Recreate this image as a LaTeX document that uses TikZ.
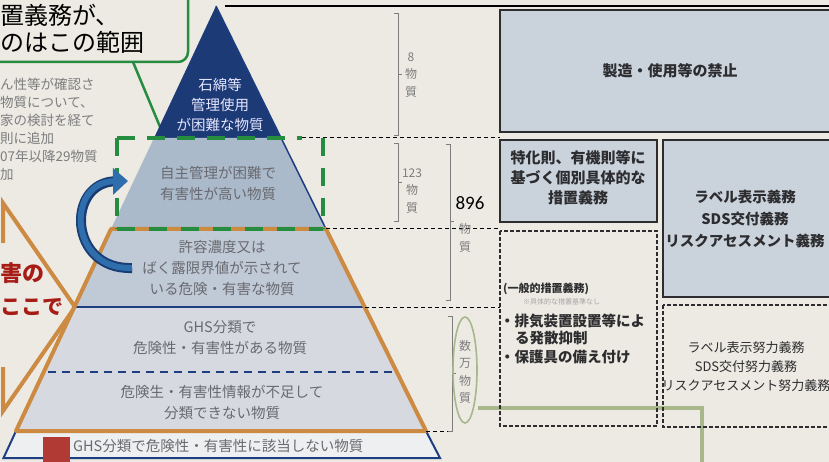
\documentclass[tikz,border=0pt]{standalone}
\usepackage{fontspec}
\setmainfont{Noto Sans CJK JP}
\newfontfamily\carl{Carlito}
\usetikzlibrary{arrows.meta}
\definecolor{paper}{RGB}{236,234,226}
\definecolor{navy}{RGB}{28,58,118}
\definecolor{bandb}{RGB}{170,186,202}
\definecolor{bandc}{RGB}{192,202,214}
\definecolor{bandd}{RGB}{214,218,224}
\definecolor{bandf}{RGB}{238,239,240}
\definecolor{edgeblue}{RGB}{30,62,130}
\definecolor{ptxt}{RGB}{105,105,112}
\definecolor{ltxt}{RGB}{125,125,128}
\definecolor{orng}{RGB}{204,138,66}
\definecolor{grn}{RGB}{38,140,64}
\definecolor{sage}{RGB}{168,184,140}
\definecolor{boxfill}{RGB}{202,210,220}
\definecolor{dred}{RGB}{168,28,22}
\definecolor{sqred}{RGB}{178,58,52}
\definecolor{arrowblue}{RGB}{46,110,172}
\definecolor{arrowedge}{RGB}{25,60,115}
\definecolor{brk}{RGB}{125,125,125}
\definecolor{boxtxt}{RGB}{45,45,48}
\begin{document}
\begin{tikzpicture}[x=1pt,y=-1pt,
  ptext/.style={text=ptxt,font=\fontsize{14.5}{21}\selectfont,align=center,inner sep=0pt},
  wtext/.style={text=white!90!blue,font=\fontsize{14.5}{20}\selectfont,align=center,inner sep=0pt},
  ltext/.style={text=ltxt,font=\fontsize{13.5}{18}\selectfont,anchor=west,inner sep=0pt},
  vtext/.style={text=brk,font=\fontsize{12}{17.5}\selectfont,align=center,inner sep=0pt},
  brack/.style={draw=brk,line width=1pt},
  hdash/.style={draw=black,line width=1pt,dash pattern=on 4pt off 3pt},
  solidbox/.style={draw=boxtxt,line width=2.5pt,fill=boxfill},
  dashbox/.style={draw=boxtxt,line width=1.5pt,dash pattern=on 4pt off 2pt},
  btext/.style={text=boxtxt,font=\bfseries\fontsize{15}{20}\selectfont,align=center,inner sep=0pt},
  dtext/.style={text=boxtxt,font=\bfseries\fontsize{14.5}{18}\selectfont,anchor=west,inner sep=0pt},
  etext/.style={text=boxtxt,font=\fontsize{13}{19}\selectfont,align=center,inner sep=0pt},
  gdash/.style={draw=grn,line width=4pt,dash pattern=on 18pt off 12pt}]
\useasboundingbox (0,0) rectangle (829,462);
\fill[paper] (0,0) rectangle (829,462);
\begin{scope}
\clip (0,0) rectangle (829,462);
% callout
\draw[grn,line width=2.5pt,rounded corners=10pt] (-40,-40) rectangle (188,62);
\node[anchor=west,inner sep=0pt,font=\fontsize{24}{28}\selectfont] (c1) at (0,15) {置義務が、};
\node[anchor=west,inner sep=0pt,font=\fontsize{24}{28}\selectfont] (c2) at (0,42) {のはこの範囲};
\coordinate (calltail) at (133,62);
\coordinate (callhead) at (163,134);
\draw[grn,line width=2.5pt] (calltail) -- (callhead);
% left grey text
\node[ltext] (l1) at (0,84) {ん性等が確認さ};
\node[ltext] (l2) at (0,102) {物質について、};
\node[ltext] (l3) at (0,120) {家の検討を経て};
\node[ltext] (l4) at (0,138) {則に追加};
\node[ltext] (l5) at (0,156) {07年以降29物質};
\node[ltext] (l6) at (0,174) {加};
% orange arrow on left
\draw[orng,line width=4pt,line join=miter] (3,243) -- (3,203) -- (75,307) -- (3,411) -- (3,367);
\node[anchor=west,inner sep=0pt,text=dred,font=\bfseries\fontsize{22}{26}\selectfont] (r1) at (0,273) {害の};
\node[anchor=west,inner sep=0pt,text=dred,font=\bfseries\fontsize{21}{26}\selectfont] (r2) at (0,307) {ここで};
% pyramid bands
\fill[navy] (216,6) -- (281,138) -- (154,138) -- cycle;
\fill[bandb] (154,138) -- (281,138) -- (326,229) -- (111,229) -- cycle;
\fill[bandc] (111,229) -- (326,229) -- (365,307) -- (74.5,307) -- cycle;
\fill[bandd] (74.5,307) -- (365,307) -- (426,431) -- (16,431) -- cycle;
\filldraw[fill=bandf,draw=edgeblue,line width=2pt] (16,431) -- (426,431) -- (440,458) -- (3.5,458) -- cycle;
\draw[edgeblue,line width=1.5pt] (216,6) -- (326,229);
\draw[edgeblue,line width=2pt] (74.5,307) -- (365,307);
\draw[edgeblue,line width=1.5pt,dash pattern=on 8pt off 6pt] (48,372) -- (392,372);
% orange trapezoid
\draw[orng,line width=4pt,line join=round] (111,229) -- (326,229) -- (426,431) -- (16,431) -- cycle;
% green dashed frame
\draw[gdash] (117,138) -- (302,138);
\draw[gdash] (323,138) -- (323,229);
\draw[gdash] (117,138) -- (117,229);
\draw[gdash,dash pattern=on 18pt off 14pt] (117,229) -- (323,229);
% blue curved arrow
\draw[arrowedge,line width=10pt,shorten >=12pt] (132,268) .. controls (68,270) and (66,182) .. (128,181);
\draw[arrowblue,line width=6pt,-{Triangle[length=15pt,width=26pt]}] (132,268) .. controls (68,270) and (66,182) .. (128,181);
% red square
\fill[sqred] (43,437) rectangle (70,470);
% pyramid texts
\node[wtext] (t1) at (220,105) {石綿等\\管理使用\\が困難な物質};
\node[ptext] (t2) at (218,183) {自主管理が困難で\\有害性が高い物質};
\node[ptext] (t3) at (222,268) {許容濃度又は\\ばく露限界値が示されて\\いる危険・有害な物質};
\node[ptext] (t4) at (220,338) {GHS分類で\\危険性・有害性がある物質};
\node[ptext] (t5) at (222,402) {危険生・有害性情報が不足して\\分類できない物質};
\node[ptext,anchor=west] (t6) at (73,446) {GHS分類で危険性・有害性に該当しない物質};
% right-side lines
\draw[black,line width=1.2pt] (225,6) -- (829,6);
\draw[hdash] (302,138) -- (500,138);
\draw[hdash] (326,229) -- (500,229);
\draw[hdash] (365,307) -- (500,307);
\draw[hdash] (426,431) -- (452,431);
% brackets
\draw[brack] (394,14) -- (398,14) -- (398,136) -- (394,136);
\draw[brack] (398,75) -- (402,75);
\draw[brack] (394,144) -- (398,144) -- (398,222) -- (394,222);
\draw[brack] (398,183) -- (402,183);
\draw[brack] (446,145) -- (450,145) -- (450,300) -- (446,300);
\draw[brack] (450,222) -- (454,222);
\draw[brack] (448,316) -- (452,316) -- (452,431) -- (448,431);
\draw[brack] (452,373) -- (456,373);
\node[vtext] (n8) at (411,75) {8\\物\\質};
\node[vtext] (n123) at (412,191) {123\\物\\質};
\node[vtext] (n896) at (465,238) {物\\質};
\node[inner sep=0pt,text=black,font=\carl\fontsize{19}{22}\selectfont] (num) at (470,203) {896};
\draw[sage,line width=1.6pt] (465,370) ellipse [x radius=12, y radius=53];
\node[vtext,font=\fontsize{12}{17.5}\selectfont] (nman) at (465,372) {数\\万\\物\\質};
\draw[sage,line width=4pt] (478,408) -- (702,408) -- (702,470);
% right boxes
\draw[solidbox] (500,10) rectangle (845,132);
\node[btext] (ba) at (670,71) {製造・使用等の禁止};
\draw[solidbox] (500,140) rectangle (657,222);
\node[btext] (bb) at (578,178) {特化則、有機則等に\\基づく個別具体的な\\措置義務};
\draw[solidbox] (663,140) rectangle (845,297);
\node[btext,font=\bfseries\fontsize{14.5}{22}\selectfont] (bc) at (745,219) {ラベル表示義務\\SDS交付義務\\リスクアセスメント義務};
\draw[dashbox] (500,231) rectangle (657,426);
\node[dtext,font=\bfseries\fontsize{11}{14}\selectfont] (d1) at (503,289) {(一般的措置義務)};
\node[anchor=west,inner sep=0pt,text=ltxt!70!white,font=\fontsize{7}{9}\selectfont] (d2) at (523,302) {※具体的な措置基準なし};
\node[dtext] (d3) at (500,321) {・排気装置設置等によ};
\node[dtext] (d4) at (515,338) {る発散抑制};
\node[dtext] (d5) at (500,357) {・保護具の備え付け};
\draw[dashbox] (663,305) rectangle (845,427);
\node[etext] (be) at (746,367) {ラベル表示努力義務\\SDS交付努力義務\\リスクアセスメント努力義務};
\end{scope}
\end{tikzpicture}
\end{document}
